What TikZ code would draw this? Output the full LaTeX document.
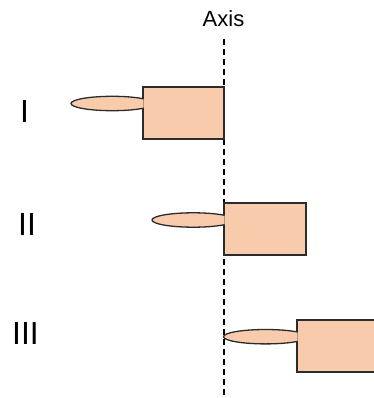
\documentclass[tikz,border=0pt]{standalone}
\usepackage{fontspec}
\setmainfont{Liberation Sans}
\definecolor{peach}{HTML}{F8CBAD}
\definecolor{edge}{HTML}{2B2B2B}
\begin{document}
\begin{tikzpicture}[x=1pt,y=-1pt,
  part/.style={fill=peach,draw=edge,line width=1.3pt},
  numeral/.style={inner sep=0pt,anchor=base,font=\fontsize{32}{32}\selectfont},
  axislabel/.style={inner sep=0pt,anchor=base,font=\fontsize{22}{22}\selectfont}]
\useasboundingbox (0,0) rectangle (373,398);

% rotation axis
\node[axislabel] (axis) at (223.5,27) {Axis};
\coordinate (axtop) at (224,39);
\coordinate (axbot) at (224,398);
\draw[line width=1.5pt,dash pattern=on 6pt off 4pt] (axtop) -- (axbot);

% a paddle: rectangle body with an elliptic blade attached to its left side
% #1 = rect left x, #2 = rect top y, #3 = rect right x, #4 = blade left x, #5 = blade centre y
\newcommand{\paddle}[5]{%
  \fill[peach] (#1,#2) rectangle (#3,#2+52);
  \draw[part] (#1,#2) rectangle (#3,#2+52);
  \begin{scope}
    \clip (#4-5,#2-5) rectangle (#1+0.7,#2+57);
    \pgfmathsetmacro{\rx}{(#1-#4)/1.745}
    \draw[part] ({#4+\rx},#5) ellipse [x radius=\rx,y radius=7.2];
  \end{scope}}

\paddle{143}{87}{224}{71}{103.5}
\paddle{224}{203}{306}{152}{220}
\paddle{297}{320}{380}{223.5}{336.7}

% labels
\node[numeral] (one) at (24.5,123) {I};
\node[numeral] (two) at (27,235) {II};
\node[numeral] (three) at (25.5,344) {III};
\end{tikzpicture}
\end{document}
